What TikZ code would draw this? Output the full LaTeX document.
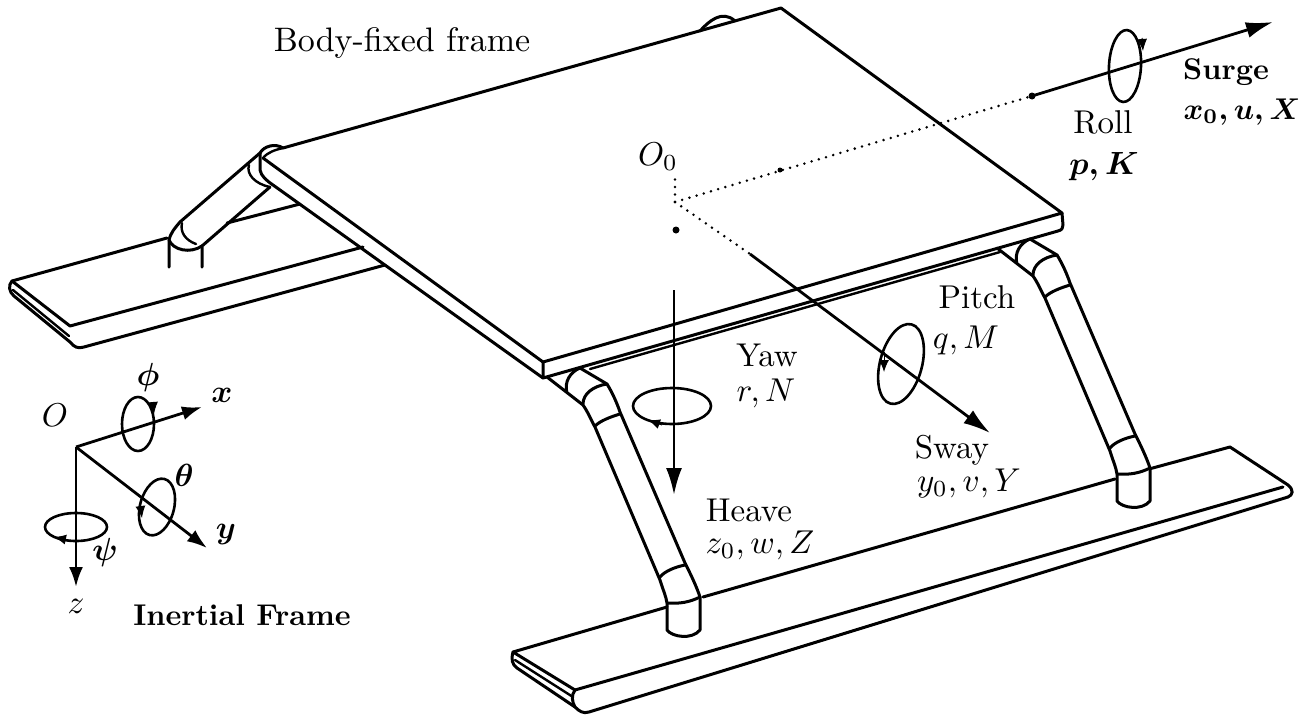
\documentclass[tikz,border=0pt]{standalone}
\usepackage{amsmath,amsthm,amssymb}
\usetikzlibrary{arrows.meta}

\tikzset{
  edge3/.style={line width=3pt,line cap=round,line join=round},
  thin3/.style={line width=2.4pt,line cap=round,line join=round},
  axis3/.style={line width=2.8pt,-{Latex[length=27pt,width=16pt]}},
  small3/.style={line width=2.8pt,-{Latex[length=20pt,width=14pt]}},
  spin3/.style={line width=2.6pt},
  tip3/.style={line width=1pt,-{Latex[length=12pt,width=10pt]}},
  dots3/.style={line width=2.8pt,line cap=round,dash pattern=on 0pt off 7.5pt},
  dotmark/.style={shape=circle,fill=black,inner sep=0pt,minimum size=7pt},
  txt/.style={scale=3.3,inner sep=0pt},
  txtb/.style={scale=3,font=\bfseries\boldmath,inner sep=0pt},
  sym/.style={scale=3.2,inner sep=0pt,font=\boldmath}
}

\begin{document}
\begin{tikzpicture}[x=1pt,y=-1pt]
\useasboundingbox (0,0) rectangle (1310,726);

% rear skid
\draw[edge3] (167,238) -- (12,281) .. controls (8,285) and (9,292) .. (14,296) -- (70,342)
  .. controls (74,347) and (78,349) .. (84,347) -- (385,265);
\draw[edge3] (363,247) -- (70,326) -- (12,281);
\draw[thin3] (13,290) -- (69,336);
\draw[edge3] (227,223) -- (300,204);

% rear leg
\draw[edge3] (169,267) -- (169,240) .. controls (171,232) and (175,228) .. (180,222) -- (260,153);
\draw[edge3] (202,267) -- (202,246) -- (270,187);
\draw[edge3] (169,240) .. controls (173,250) and (190,254) .. (202,246);
\draw[thin3] (182,223) .. controls (180,232) and (185,240) .. (196,244);
\draw[thin3] (249,165) .. controls (246,174) and (255,184) .. (270,187);

% plate
\draw[edge3] (283,148) -- (781,8) -- (1062,213) -- (543,362) -- (263,158);
\draw[edge3] (260,153) .. controls (264,146) and (275,143) .. (283,148);
\draw[thin3] (263,158) .. controls (268,152) and (275,150) .. (283,148);
\draw[edge3] (260,153) -- (260,170) .. controls (261,176) and (267,181) .. (273,185) -- (543,378);
\draw[edge3] (543,362) -- (543,378) -- (1058,231) .. controls (1062,230) and (1063,228) .. (1063,225) -- (1062,213);
\draw[edge3] (700,31) .. controls (708,22) and (722,9) .. (735,21);
\draw[thin3] (590,369) -- (1000,252);

% legs
\foreach \dx/\dy [count=\n] in {0/0,450/-129}{
\begin{scope}[shift={(\dx,\dy)}]
\draw[edge3] (547,377) -- (583,405) .. controls (588,412) and (591,420) .. (595,427) -- (660,580) .. controls (663,590) and (666,596) .. (667,603)
  -- (667,630) .. controls (672,637) and (692,640) .. (700,630) -- (700,597) .. controls (696,585) and (690,573) .. (685,563)
  -- (620,412) .. controls (617,403) and (612,392) .. (607,384) -- (580,368) .. controls (570,372) and (564,382) .. (567,393);
\draw[edge3] (583,404) .. controls (583,394) and (593,386) .. (607,384);
\draw[edge3] (595,426) .. controls (600,421) and (610,417) .. (620,414);
\draw[edge3] (660,577) .. controls (665,571) and (675,567) .. (685,565);
\draw[edge3] (667,603) .. controls (680,604) and (690,602) .. (700,597);
\end{scope}
}

% front skid
\draw[edge3] (667,607) -- (513,652) -- (575,690) -- (1283,487);
\draw[edge3] (703,597) -- (1115,479);
\draw[edge3] (1149,469) -- (1230,447) -- (1288,485) .. controls (1294,490) and (1293,495) .. (1288,497) -- (589,712)
  .. controls (583,714) and (579,711) .. (575,707) -- (517,668) .. controls (512,664) and (511,660) .. (513,652);
\draw[thin3] (515,660) -- (573,697);
\draw[edge3] (575,690) .. controls (571,695) and (572,702) .. (575,707);

% body axes
\coordinate (O0) at (675,202);
\coordinate (X0) at (1032,96);
\coordinate (X1) at (1273,22);
\coordinate (Y0) at (750,254);
\coordinate (Y1) at (990,433);
\coordinate (Z0) at (674,290);
\coordinate (Z1) at (674,495);
\coordinate (Z2) at (675,177);

\draw[dots3] (O0) -- (X0);
\draw[dots3] (O0) -- (Y0);
\draw[dots3] (O0) -- (Z2);
\node[dotmark] (Xd) at (X0) {};
\node[dotmark] (Zd) at (676,230) {};
\node[dotmark,minimum size=5pt] (Xe) at (780,170) {};
\draw[axis3] (X0) -- (X1);
\draw[axis3] (Y0) -- (Y1);
\draw[axis3] (Z0) -- (Z1);

% body rotations
\draw[spin3] (1125,66) ellipse [x radius=16pt,y radius=36pt,rotate=-3];
\draw[tip3] (1142,38) -- (1143,51);
\draw[spin3] (672,406) ellipse [x radius=39pt,y radius=18pt];
\draw[tip3] (662,425) -- (648,420);
\draw[spin3] (901,364) ellipse [x radius=21pt,y radius=41pt,rotate=-15];
\draw[tip3] (884,352) -- (884,372);

% inertial axes
\coordinate (O) at (76,447);
\coordinate (Ox) at (202,407);
\coordinate (Oy) at (207,548);
\coordinate (Oz) at (76,587);

\draw[small3] (O) -- (Ox);
\draw[small3] (O) -- (Oy);
\draw[small3] (O) -- (Oz);

% inertial rotations
\draw[spin3] (138,424) ellipse [x radius=16pt,y radius=27pt];
\draw[tip3] (153,402) -- (154,414);
\draw[spin3] (157,507) ellipse [x radius=17pt,y radius=29pt,rotate=-15];
\draw[tip3] (140,503) -- (142,518);
\draw[spin3] (76,527) ellipse [x radius=31pt,y radius=14pt];
\draw[tip3] (68,540) -- (54,537);

% labels
\node[txt,scale=1.03] (lbody) at (402,43) {Body-fixed frame};
\node[txt] (lO0) at (658,157) {$O_0$};
\node[txt] (lroll) at (1103,122) {Roll};
\node[txtb,scale=1.07] (lrollv) at (1104,167) {$p, K$};
\node[txtb] (lsurge) at (1226,72) {Surge};
\node[txtb] (lsurgev) at (1242,112) {$x_0, u, X$};
\node[txt] (lpitch) at (977,297) {Pitch};
\node[txt] (lpitchv) at (966,340) {$q, M$};
\node[txt] (lyaw) at (767,355) {Yaw};
\node[txt] (lyawv) at (766,393) {$r, N$};
\node[txt] (lheave) at (749,510) {Heave};
\node[txt] (lheavev) at (760,545) {$z_0, w, Z$};
\node[txt] (lsway) at (952,450) {Sway};
\node[txt] (lswayv) at (969,483) {$y_0, v, Y$};
\node[txt] (lO) at (55,415) {$O$};
\node[sym] (lphi) at (148,377) {$\phi$};
\node[sym] (lx) at (222,395) {$x$};
\node[sym] (ltheta) at (184,475) {$\theta$};
\node[sym] (ly) at (226,534) {$y$};
\node[sym] (lpsi) at (105,552) {$\psi$};
\node[txt] (lz) at (76,606) {$z$};
\node[txtb] (linertial) at (242,615) {Inertial Frame};

\end{tikzpicture}
\end{document}
